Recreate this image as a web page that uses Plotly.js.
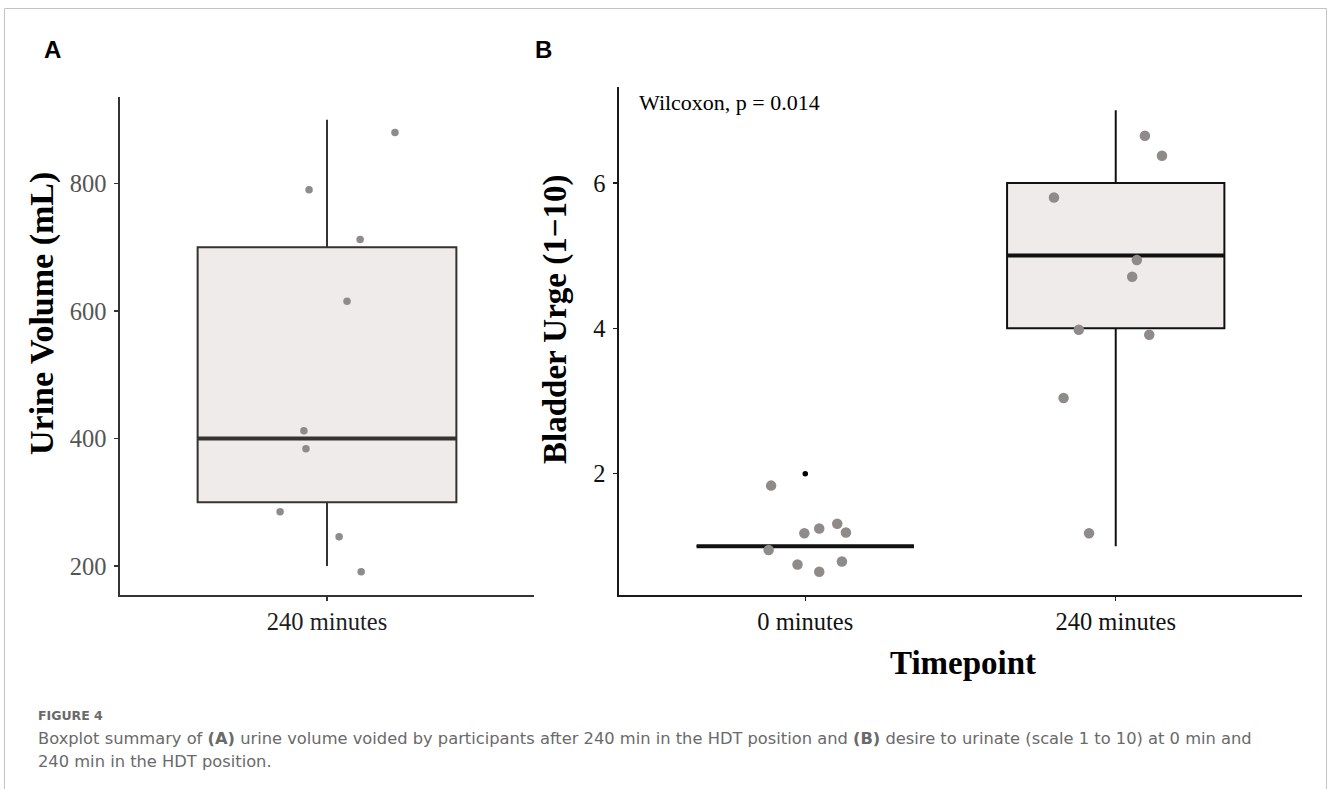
<!DOCTYPE html>
<html>
<head>
<meta charset="utf-8">
<script src="https://cdn.plot.ly/plotly-3.0.1.min.js"></script>
<style>
  html, body { margin: 0; padding: 0; background: #ffffff; }
  #chart { width: 1330px; height: 789px; }
</style>
</head>
<body>
<div id="chart"></div>
<script>
// ---------- Panel A data: urine volume at 240 minutes ----------
const volumeCategories = ['240 minutes'];
const volumeQ1 = [300];
const volumeMedian = [400];
const volumeQ3 = [700];
const volumeLowerFence = [200];
const volumeUpperFence = [900];
const volumePoints = [880, 790, 712, 615, 412, 384, 285, 246, 191];
const volumeJitter = [0.197, -0.052, 0.096, 0.058, -0.067, -0.061, -0.136, 0.035, 0.099];
const volumeTicks = [200, 400, 600, 800];

// ---------- Panel B data: bladder urge ----------
const timepoints = ['0 minutes', '240 minutes'];
const urgeQ1 = [1, 4];
const urgeMedian = [1, 5];
const urgeQ3 = [1, 6];
const urgeLowerFence = [1, 1];
const urgeUpperFence = [1, 7];
const urgeOutliers = [2];          // outlier in '0 minutes'
const urgePoints0 = [1.835, 1.18, 1.244, 1.31, 1.19, 0.95, 0.75, 0.65, 0.79];
const urgeJitter0 = [-0.110, -0.003, 0.045, 0.103, 0.131, -0.118, -0.025, 0.045, 0.118];
const urgePoints240 = [6.65, 6.375, 5.8, 4.94, 4.71, 3.98, 3.91, 3.04, 1.18];
const urgeJitter240 = [0.094, 0.149, -0.199, 0.068, 0.053, -0.119, 0.108, -0.168, -0.086];
const urgeTicks = [2, 4, 6];
const pValueText = 'Wilcoxon, p = 0.014';

// ---------- helpers ----------
const W = 1330, H = 789;
const px = v => v / W;
const py = v => 1 - v / H;
const idx = arr => arr.map((_, i) => i);

const serif = 'Liberation Serif, Times New Roman, serif';
const captionFont = 'DejaVu Sans, Open Sans, sans-serif';
const boxFill = '#EFEBEA';
const pointColor = '#8F8B8A';

const traces = [];

// Panel A box
traces.push({
  type: 'box', xaxis: 'x', yaxis: 'y',
  x: idx(volumeCategories), q1: volumeQ1, median: volumeMedian, q3: volumeQ3,
  lowerfence: volumeLowerFence, upperfence: volumeUpperFence,
  width: 0.75, whiskerwidth: 0, boxpoints: false,
  fillcolor: boxFill, line: { color: '#353232', width: 2 }, hoverinfo: 'skip'
});
// Panel A thick median
traces.push({
  type: 'box', xaxis: 'x', yaxis: 'y',
  x: idx(volumeCategories), q1: volumeMedian, median: volumeMedian, q3: volumeMedian,
  lowerfence: volumeMedian, upperfence: volumeMedian,
  width: 0.75, whiskerwidth: 0, boxpoints: false,
  fillcolor: 'rgba(0,0,0,0)', line: { color: '#353232', width: 4 }, hoverinfo: 'skip'
});
// Panel A jittered points
traces.push({
  type: 'scatter', mode: 'markers', xaxis: 'x', yaxis: 'y',
  x: volumePoints.map((_, i) => 0 + volumeJitter[i]), y: volumePoints,
  marker: { color: pointColor, size: 7.5, line: { width: 0 } }, hoverinfo: 'skip'
});

// Panel B box
traces.push({
  type: 'box', xaxis: 'x2', yaxis: 'y2',
  x: idx(timepoints), q1: urgeQ1, median: urgeMedian, q3: urgeQ3,
  lowerfence: urgeLowerFence, upperfence: urgeUpperFence,
  width: 0.7, whiskerwidth: 0, boxpoints: false,
  fillcolor: boxFill, line: { color: '#111111', width: 2 }, hoverinfo: 'skip'
});
// Panel B thick medians
traces.push({
  type: 'box', xaxis: 'x2', yaxis: 'y2',
  x: idx(timepoints), q1: urgeMedian, median: urgeMedian, q3: urgeMedian,
  lowerfence: urgeMedian, upperfence: urgeMedian,
  width: 0.7, whiskerwidth: 0, boxpoints: false,
  fillcolor: 'rgba(0,0,0,0)', line: { color: '#111111', width: 4 }, hoverinfo: 'skip'
});
// Panel B outlier
traces.push({
  type: 'scatter', mode: 'markers', xaxis: 'x2', yaxis: 'y2',
  x: urgeOutliers.map(() => 0), y: urgeOutliers,
  marker: { color: '#000000', size: 5.5, line: { width: 0 } }, hoverinfo: 'skip'
});
// Panel B jittered points
traces.push({
  type: 'scatter', mode: 'markers', xaxis: 'x2', yaxis: 'y2',
  x: urgePoints0.map((_, i) => 0 + urgeJitter0[i]), y: urgePoints0,
  marker: { color: pointColor, size: 10.5, line: { width: 0 } }, hoverinfo: 'skip'
});
traces.push({
  type: 'scatter', mode: 'markers', xaxis: 'x2', yaxis: 'y2',
  x: urgePoints240.map((_, i) => 1 + urgeJitter240[i]), y: urgePoints240,
  marker: { color: pointColor, size: 10.5, line: { width: 0 } }, hoverinfo: 'skip'
});

const axisBase = {
  showgrid: false, zeroline: false, showline: true,
  ticks: 'outside', ticklen: 4, tickwidth: 1.3, automargin: false, fixedrange: true
};

const layout = {
  width: W, height: H,
  margin: { l: 0, r: 0, t: 0, b: 0 },
  paper_bgcolor: '#ffffff', plot_bgcolor: '#ffffff',
  showlegend: false,
  xaxis: Object.assign({}, axisBase, {
    domain: [px(120), px(534)], anchor: 'y', range: [-0.6, 0.6],
    tickvals: idx(volumeCategories), ticktext: volumeCategories,
    linecolor: '#353232', linewidth: 1.6, tickcolor: '#353232',
    ticklabelstandoff: 0,
    tickfont: { family: serif, size: 24.5, color: '#1e1e1e' }
  }),
  yaxis: Object.assign({}, axisBase, {
    domain: [py(595), py(97)], anchor: 'x', range: [154.5, 935.5],
    tickvals: volumeTicks, ticktext: volumeTicks.map(String),
    linecolor: '#353232', linewidth: 1.6, tickcolor: '#353232',
    ticklabelstandoff: 3,
    tickfont: { family: serif, size: 24.5, color: '#555555' }
  }),
  xaxis2: Object.assign({}, axisBase, {
    domain: [px(619), px(1302)], anchor: 'y2', range: [-0.6, 1.6],
    tickvals: idx(timepoints), ticktext: timepoints,
    linecolor: '#1a1a1a', linewidth: 1.6, tickcolor: '#1a1a1a',
    ticklabelstandoff: 0,
    tickfont: { family: serif, size: 24.5, color: '#111111' }
  }),
  yaxis2: Object.assign({}, axisBase, {
    domain: [py(595), py(87)], anchor: 'x2', range: [0.33, 7.32],
    tickvals: urgeTicks, ticktext: urgeTicks.map(String),
    linecolor: '#1a1a1a', linewidth: 1.6, tickcolor: '#1a1a1a',
    ticklabelstandoff: 3,
    tickfont: { family: serif, size: 24.5, color: '#111111' }
  }),
  shapes: [
    { type: 'rect', xref: 'paper', yref: 'paper',
      x0: px(4.5), x1: px(1326.5), y0: -0.05, y1: py(8.5),
      line: { color: '#c4c4c4', width: 1 }, fillcolor: 'rgba(0,0,0,0)' }
  ],
  annotations: [
    { text: 'A', xref: 'paper', yref: 'paper', x: px(52), y: py(50),
      xanchor: 'center', yanchor: 'middle', showarrow: false,
      font: { family: 'Liberation Sans, Arial, sans-serif', size: 24, color: '#000', weight: 'bold' } },
    { text: 'B', xref: 'paper', yref: 'paper', x: px(543), y: py(50),
      xanchor: 'center', yanchor: 'middle', showarrow: false,
      font: { family: 'Liberation Sans, Arial, sans-serif', size: 24, color: '#000', weight: 'bold' } },
    { text: 'Urine Volume (mL)', xref: 'paper', yref: 'paper', x: px(42), y: py(314),
      xanchor: 'center', yanchor: 'middle', textangle: -90, showarrow: false,
      font: { family: serif, size: 34, color: '#000', weight: 'bold' } },
    { text: 'Bladder Urge (1\u221210)', xref: 'paper', yref: 'paper', x: px(556), y: py(319),
      xanchor: 'center', yanchor: 'middle', textangle: -90, showarrow: false,
      font: { family: serif, size: 33, color: '#000', weight: 'bold' } },
    { text: 'Timepoint', xref: 'paper', yref: 'paper', x: px(963), y: py(663),
      xanchor: 'center', yanchor: 'middle', showarrow: false,
      font: { family: serif, size: 33, color: '#000', weight: 'bold' } },
    { text: pValueText, xref: 'paper', yref: 'paper', x: px(637), y: py(102),
      xanchor: 'left', yanchor: 'middle', showarrow: false,
      font: { family: serif, size: 22, color: '#000' } },
    { text: 'FIGURE 4', xref: 'paper', yref: 'paper', x: px(36), y: py(715),
      xanchor: 'left', yanchor: 'middle', showarrow: false,
      font: { family: captionFont, size: 12.5, color: '#6a6a6a', weight: 'bold' } },
    { text: 'Boxplot summary of <b>(A)</b> urine volume voided by participants after 240 min in the HDT position and <b>(B)</b> desire to urinate (scale 1 to 10) at 0 min and',
      xref: 'paper', yref: 'paper', x: px(36), y: py(738),
      xanchor: 'left', yanchor: 'middle', showarrow: false,
      font: { family: captionFont, size: 16.3, color: '#6a6a6a' } },
    { text: '240 min in the HDT position.',
      xref: 'paper', yref: 'paper', x: px(36), y: py(761),
      xanchor: 'left', yanchor: 'middle', showarrow: false,
      font: { family: captionFont, size: 16.3, color: '#6a6a6a' } }
  ]
};

Plotly.newPlot('chart', traces, layout, { staticPlot: true, displayModeBar: false });
</script>
</body>
</html>
